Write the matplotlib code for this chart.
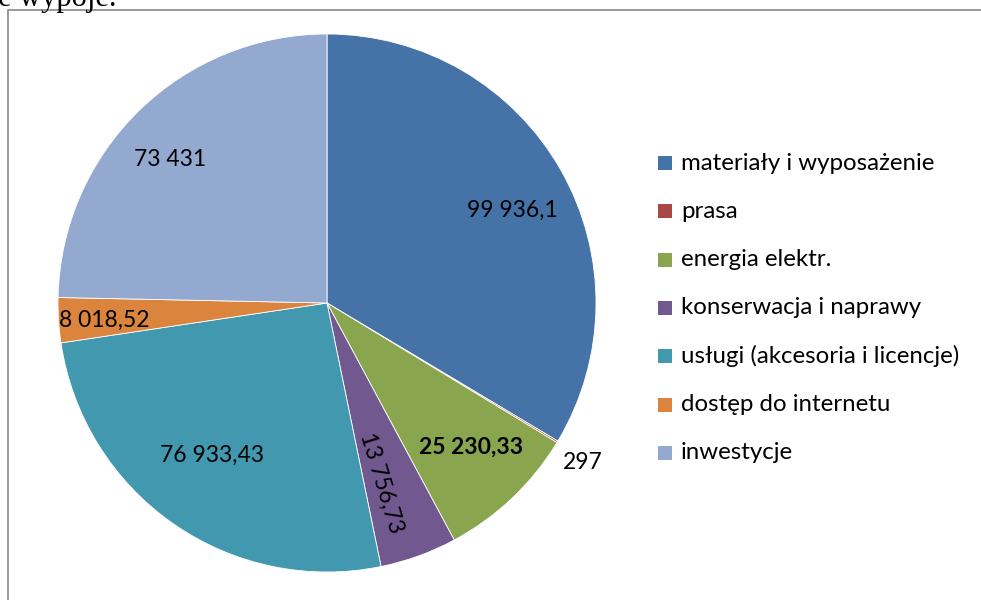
import matplotlib
matplotlib.use("Agg")
import matplotlib.pyplot as plt
from matplotlib.patches import Rectangle
import numpy as np

categories = ["materiały i wyposażenie", "prasa", "energia elektr.",
              "konserwacja i naprawy", "usługi (akcesoria i licencje)",
              "dostęp do internetu", "inwestycje"]
values = [99936.1, 297, 25230.33, 13756.73, 76933.43, 8018.52, 73431]
value_labels = ["99 936,1", "297", "25 230,33", "13 756,73", "76 933,43", "8 018,52", "73 431"]
colors = ["#4572A7", "#AA4643", "#89A54E", "#71588F", "#4198AF", "#DB843D", "#93A9CF"]

plt.rcParams['font.family'] = ['Lato', 'DejaVu Sans']

W, H = 981, 600
fig = plt.figure(figsize=(W / 100, H / 100), dpi=100)

# chart border
fig.patches.append(Rectangle((8 / W, -0.1), 1.2, (H - 10) / H + 0.1,
                             transform=fig.transFigure, fill=False,
                             edgecolor="#888888", linewidth=1.2))

# clipped heading text from the source document
fig.text(-2 / W, 1 - 6 / H, "e wypoje.", family=["Liberation Serif"], fontsize=22,
         va="baseline", ha="left", color="black")

cx, cy, r = 327, 303, 269
ax = fig.add_axes([(cx - r) / W, (H - cy - r) / H, 2 * r / W, 2 * r / H])
wedges, _ = ax.pie(values, colors=colors, startangle=90, counterclock=False,
                   radius=1, wedgeprops=dict(linewidth=0.6, edgecolor="white"))
ax.set_xlim(-1, 1)
ax.set_ylim(-1, 1)
ax.set_aspect("equal")
ax.axis("off")

# label placement (radius factor, angle offset, bold, rotation)
label_r = [0.77, 1.12, 0.76, 0.70, 0.71, 0.83, 0.79]
label_dang = [-3, -1, 1.5, -3, -2, 0.8, 3]
label_bold = [False, False, True, False, False, False, False]
for i, w in enumerate(wedges):
    mid = np.deg2rad((w.theta1 + w.theta2) / 2 + label_dang[i])
    x, y = label_r[i] * np.cos(mid), label_r[i] * np.sin(mid)
    rot = 0
    if i == 3:
        rot = (w.theta1 + w.theta2) / 2 - 3
    ax.text(x, y, value_labels[i], ha="center", va="center", fontsize=16.5,
            fontweight="bold" if label_bold[i] else "normal", rotation=rot,
            rotation_mode="anchor")

# legend
leg_x = 658
y0, dy = 163, 48.3
for i, (c, lab) in enumerate(zip(colors, categories)):
    yy = y0 + i * dy
    fig.patches.append(Rectangle((leg_x / W, 1 - (yy + 7) / H), 14 / W, 14 / H,
                                 transform=fig.transFigure, facecolor=c, edgecolor="none"))
    fig.text(681 / W, 1 - yy / H, lab, fontsize=17.3, va="center", ha="left")

fig.savefig("out.png", dpi=100)
